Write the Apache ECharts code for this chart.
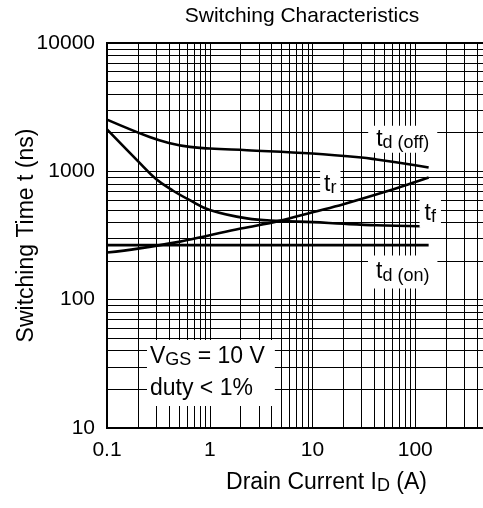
<!DOCTYPE html>
<html>
<head>
<meta charset="utf-8">
<script src="https://cdn.jsdelivr.net/npm/echarts@6/dist/echarts.min.js"></script>
<style>
  html, body { margin: 0; padding: 0; overflow: hidden; background: #fff; }
  #chart { width: 540px; height: 508px; }
</style>
</head>
<body>
<div id="chart"></div>
<script>
// Switching times (ns) versus drain current (A)
const tdOffCurrent = [0.1, 0.26, 0.4, 0.64, 1, 2.3, 10, 30, 42, 100, 135];
const tdOffTime    = [2530, 1850, 1665, 1550, 1505, 1460, 1376, 1281, 1236, 1116, 1070];

const trCurrent = [0.1, 0.2, 0.5, 1, 2, 4.8, 10, 20, 50, 100, 135];
const trTime    = [233, 250, 282, 318, 358, 411, 480, 555, 690, 825, 895];

const tfCurrent = [0.1, 0.2, 0.3, 0.44, 0.64, 1, 2.3, 4.8, 10, 20, 42, 112];
const tfTime    = [2120, 1200, 870, 706, 596, 500, 430, 411, 402, 390, 380, 373];

const tdOnCurrent = [0.1, 1, 10, 135];
const tdOnTime    = [266, 266, 266, 266];

// Axis tick labels, one per decade
const xTickLabels = ['0.1', '1', '10', '100'];
const yTickLabels = ['10', '100', '1000', '10000'];

// Log-paper minor grid: 2..9 inside every decade
const minorSteps = [2, 3, 4, 5, 6, 7, 8, 9];
const xDecades = [0.1, 1, 10, 100];
const yDecades = [10, 100, 1000];

const FONT = '"Liberation Sans", Arial, Helvetica, sans-serif';

const pairs = (xs, ys) => xs.map((x, i) => [x, ys[i]]);

const gridLines = [];
xDecades.forEach(d => minorSteps.forEach(m => gridLines.push({ xAxis: +(d * m).toPrecision(4) })));
yDecades.forEach(d => minorSteps.forEach(m => gridLines.push({ yAxis: +(d * m).toPrecision(4) })));

const main = { fontSize: 23, lineHeight: 25, fontFamily: FONT, color: '#000' };
const sub = { fontSize: 18, lineHeight: 18, padding: [7, 0, 0, 0], fontFamily: FONT, color: '#000' };

function tag(coord, text, pad) {
  return {
    coord: coord,
    symbol: 'circle',
    symbolSize: 0,
    itemStyle: { color: 'transparent' },
    label: {
      show: true,
      position: 'inside',
      formatter: text,
      backgroundColor: '#fff',
      padding: pad,
      rich: { m: main, s: sub }
    }
  };
}

const curve = (name, xs, ys) => ({
  name: name,
  type: 'line',
  data: pairs(xs, ys),
  showSymbol: false,
  smooth: 0.4,
  silent: true,
  z: 3,
  lineStyle: { color: '#000', width: 2.6 }
});

const chart = echarts.init(document.getElementById('chart'), null, { renderer: 'canvas' });

chart.setOption({
  animation: false,
  backgroundColor: '#fff',
  title: {
    text: 'Switching Characteristics',
    left: 302,
    top: 6,
    padding: 0,
    textAlign: 'center',
    textStyle: { fontFamily: FONT, fontSize: 21, fontWeight: 'normal', color: '#000' }
  },
  grid: {
    left: 107,
    top: 43,
    right: 22,
    bottom: 80,
    outerBoundsMode: 'none',
    containLabel: false,
    show: true,
    borderColor: '#000',
    borderWidth: 2,
    backgroundColor: 'transparent'
  },
  xAxis: {
    type: 'log',
    logBase: 10,
    min: 0.1,
    max: 1000,
    axisLine: { show: false },
    axisTick: { show: false },
    splitLine: { show: true, lineStyle: { color: '#000', width: 1 } },
    axisLabel: {
      margin: 12,
      fontFamily: FONT,
      fontSize: 21,
      color: '#000',
      formatter: v => xTickLabels[Math.round(Math.log10(v)) + 1] || ''
    },
    name: '{m|Drain Current I}{s|D}{m| (A)}',
    nameLocation: 'middle',
    nameGap: 42,
    nameTextStyle: {
      padding: [0, 0, 0, 28],
      rich: {
        m: { fontSize: 23, lineHeight: 25, fontFamily: FONT, color: '#000' },
        s: { fontSize: 18, lineHeight: 18, padding: [7, 0, 0, 0], fontFamily: FONT, color: '#000' }
      }
    }
  },
  yAxis: {
    type: 'log',
    logBase: 10,
    min: 10,
    max: 10000,
    axisLine: { show: false },
    axisTick: { show: false },
    splitLine: { show: true, lineStyle: { color: '#000', width: 1 } },
    axisLabel: {
      margin: 12,
      fontFamily: FONT,
      fontSize: 21,
      color: '#000',
      formatter: v => yTickLabels[Math.round(Math.log10(v)) - 1] || ''
    },
    name: 'Switching Time t (ns)',
    nameLocation: 'middle',
    nameMoveOverlap: false,
    nameGap: 69,
    nameTextStyle: { fontFamily: FONT, fontSize: 23, color: '#000' }
  },
  series: [
    {
      name: 'grid',
      type: 'line',
      data: [],
      silent: true,
      z: 1,
      markLine: {
        silent: true,
        symbol: ['none', 'none'],
        label: { show: false },
        emphasis: { disabled: true },
        lineStyle: { color: '#000', width: 1, type: 'solid' },
        data: gridLines
      }
    },
    curve('td(off)', tdOffCurrent, tdOffTime),
    curve('tr', trCurrent, trTime),
    curve('tf', tfCurrent, tfTime),
    curve('td(on)', tdOnCurrent, tdOnTime),
    {
      name: 'notes',
      type: 'line',
      data: [],
      silent: true,
      z: 6,
      markPoint: {
        silent: true,
        data: [
          tag([75.5, 1778], '{m|t}{s|d (off)}', [1, 8]),
          tag([14.9, 793], '{m|t}{s|r}', [2, 4]),
          tag([140, 472], '{m|t}{s|f}', [2, 5]),
          tag([75.5, 164], '{m|t}{s|d (on)}', [4, 8]),
          {
            coord: [0.245, 26.8],
            symbol: 'circle',
            symbolSize: 0,
            itemStyle: { color: 'transparent' },
            label: {
              show: true,
              position: 'right',
              distance: 0,
              align: 'left',
              formatter: '{v|V}{g|GS}{v| = 10 V}\n{v|duty < 1%}',
              backgroundColor: '#fff',
              padding: [1, 10, 1, 3],
              rich: {
                v: { fontSize: 23, lineHeight: 32, fontFamily: FONT, color: '#000' },
                g: { fontSize: 18, lineHeight: 18, padding: [6, 0, 0, 0], fontFamily: FONT, color: '#000' }
              }
            }
          }
        ]
      }
    }
  ]
});
</script>
</body>
</html>
